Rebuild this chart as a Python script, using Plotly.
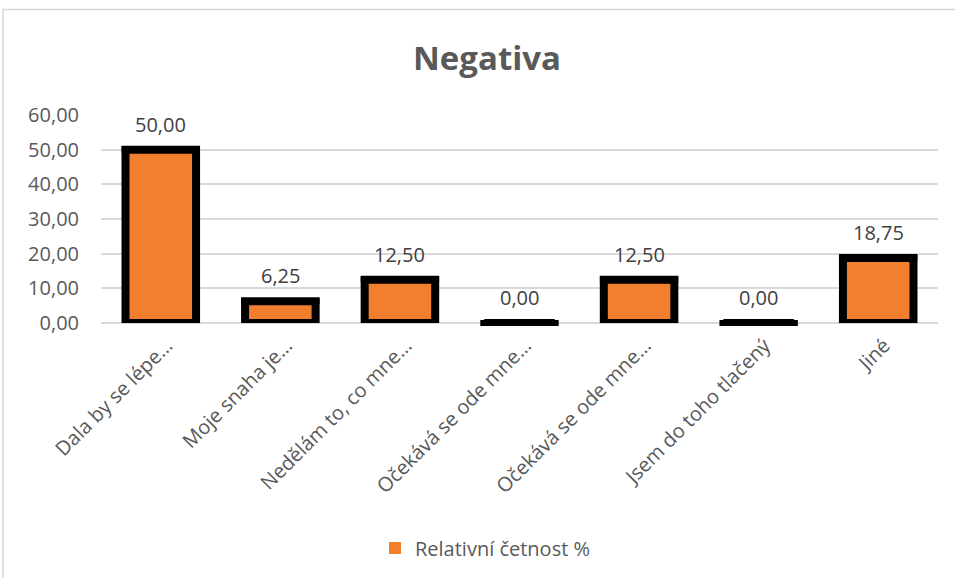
import plotly.graph_objects as go

categories = ["Dala by se lépe…", "Moje snaha je…", "Nedělám to, co mne…",
              "Očekává se ode mne…", "Očekává se ode mne…", "Jsem do toho tlačený", "Jiné"]
values = [50.00, 6.25, 12.50, 0.00, 12.50, 0.00, 18.75]
series_name = "Relativní četnost %"
y_ticks = [0, 10, 20, 30, 40, 50, 60]

FONT = "Open Sans"
GRAY = "#595959"
ORANGE = "#F27F2E"
x_pos = list(range(len(categories)))

fig = go.Figure()
fig.add_trace(go.Bar(
    x=x_pos, y=values, name=series_name, width=0.59,
    marker=dict(color=ORANGE, line=dict(color="black", width=8)),
    showlegend=False, hoverinfo="skip",
))
fig.add_trace(go.Scatter(
    x=x_pos, y=values, mode="markers", showlegend=False, hoverinfo="skip",
    marker=dict(symbol="line-ew", size=56, color="black",
                line=dict(color="black", width=6)),
    cliponaxis=False,
))
# legend entry only (no data)
fig.add_trace(go.Bar(x=[None], y=[None], name=series_name,
                     marker=dict(color=ORANGE, line=dict(width=0))))

for xp, v in zip(x_pos, values):
    fig.add_annotation(x=xp, y=v, text=f"{v:.2f}".replace(".", ","),
                       showarrow=False, yanchor="bottom", yshift=10,
                       font=dict(family=FONT, size=20, color="#404040"))

fig.add_shape(type="rect", xref="paper", yref="paper",
              x0=(3 - 101) / 837, x1=1.2, y0=-1.6, y1=(324 - 9) / 209,
              line=dict(color="#D9D9D9", width=1.5), layer="below")

fig.update_layout(
    width=955, height=578,
    margin=dict(l=101, r=17, t=115, b=254),
    paper_bgcolor="white", plot_bgcolor="white",
    title=dict(text="<b>Negativa</b>", x=0.51, xanchor="center", y=0.899, yanchor="middle",
               font=dict(family=FONT, size=33, color=GRAY)),
    font=dict(family=FONT, color=GRAY, size=18),
    xaxis=dict(tickmode="array", tickvals=x_pos, ticktext=categories, tickangle=-45,
               range=[-0.5, len(categories) - 0.5], showgrid=False, zeroline=False,
               showline=False, ticks="", ticklabelshift=6, ticklabelstandoff=6,
               tickfont=dict(family=FONT, size=20, color=GRAY)),
    yaxis=dict(range=[0, 60], tickvals=y_ticks, tickformat=".2f",
               showgrid=True, gridcolor="#D9D9D9", gridwidth=1.5, zeroline=True,
               zerolinecolor="#D9D9D9", zerolinewidth=1.5, ticks="", ticklabelstandoff=21,
               tickfont=dict(family=FONT, size=20, color=GRAY)),
    separators=", ",
    legend=dict(orientation="h", x=(375 - 101) / 837, xanchor="left",
                y=(324 - 548) / 209, yanchor="middle", bgcolor="rgba(0,0,0,0)",
                font=dict(family=FONT, size=20, color=GRAY)),
)
fig.write_html("out.html", config={"displayModeBar": False},
               post_script="document.body.style.margin='0';")
